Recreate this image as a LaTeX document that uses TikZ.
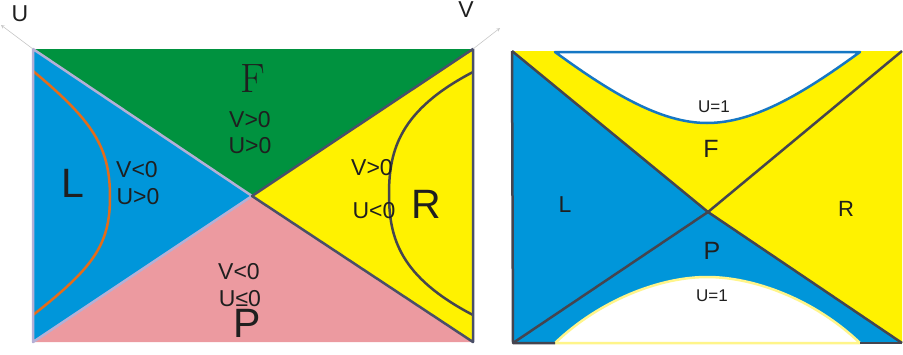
\documentclass[tikz,border=0pt]{standalone}
\usepackage{fontspec}
\setsansfont{Liberation Sans}
\definecolor{fgreen}{HTML}{00923F}
\definecolor{lblue}{HTML}{0096DA}
\definecolor{ppink}{HTML}{EC9AA0}
\definecolor{ryellow}{HTML}{FFF200}
\definecolor{lav}{HTML}{B4B0D6}
\definecolor{dkline}{HTML}{4A4F68}
\definecolor{dkgray}{HTML}{45454F}
\definecolor{horange}{HTML}{E46C1A}
\definecolor{hblue}{HTML}{1577C4}
\definecolor{hyellow}{HTML}{FFF58A}
\begin{document}
\begin{tikzpicture}[x=1pt,y=-1pt,>=stealth,
  every node/.style={inner sep=0pt,text=black!88},
  lbl/.style={font=\sffamily\fontsize{23}{23}\selectfont},
  big/.style={font=\sffamily\fontsize{41}{41}\selectfont},
  mid/.style={font=\sffamily\fontsize{25}{25}\selectfont},
  small/.style={font=\sffamily\fontsize{17}{17}\selectfont},
  edge/.style={line width=2.5pt,line join=round},
  axis/.style={draw=black!22,line width=0.6pt}]
\useasboundingbox (0,0) rectangle (903,354);
\coordinate (a) at (33,49);
\coordinate (b) at (473,49);
\coordinate (c) at (473,342);
\coordinate (d) at (33,342);
\coordinate (o) at (252,196);
\coordinate (ut) at (1,25);
\coordinate (vt) at (500,28);
\fill[fgreen] (a)--(b)--(o)--cycle;
\fill[lblue] (a)--(o)--(d)--cycle;
\fill[ppink] (d)--(o)--(c)--cycle;
\fill[ryellow] (b)--(c)--(o)--cycle;
\draw[horange,line width=2.5pt] (33,71) .. controls (93,121) and (110,147) .. (110,197) .. controls (110,245) and (93,268) .. (33,315);
\draw[dkgray,line width=2.5pt] (473,72) .. controls (400,110) and (389,150) .. (389,194) .. controls (389,238) and (400,277) .. (473,315);
\draw[edge,lav] (d)--(a)--(o)--cycle;
\draw[edge,dkline] (b)--(o)--(c)--cycle;
\draw[->,axis] (a)--(ut);
\draw[->,axis] (b)--(vt);
\node[lbl] (ulab) at (20,14) {U};
\node[lbl] (vlab) at (466,10) {V};
\node[font=\rmfamily\fontsize{41}{41}\selectfont] (fF) at (253,79) {F};
\node[lbl] (fv) at (250,120) {V>0};
\node[lbl] (fu) at (250,146) {U>0};
\node[big] (lL) at (73,183) {L};
\node[lbl] (lv) at (137,170) {V<0};
\node[lbl] (lu) at (138,197) {U>0};
\node[lbl] (rv) at (372,168) {V>0};
\node[lbl] (ru) at (374,211) {U<0};
\node[big] (rR) at (426,204) {R};
\node[lbl] (pv) at (239,272) {V<0};
\node[lbl] (pu) at (240,299) {U≤0};
\node[big] (pP) at (247,323) {P};
\coordinate (a2) at (512,51);
\coordinate (b2) at (902,51);
\coordinate (c2) at (902,343);
\coordinate (d2) at (513,343);
\coordinate (o2) at (708,212);
\coordinate (t1) at (555,52);
\coordinate (t2) at (860,52);
\coordinate (s1) at (555,343);
\coordinate (s2) at (860,343);
\fill[ryellow] (a2)--(b2)--(c2)--(o2)--cycle;
\fill[lblue] (a2)--(o2)--(c2)--(d2)--cycle;
\filldraw[fill=white,draw=hblue,line width=2.5pt,line join=round] (t1)--(t2) .. controls (805,92) and (755,123) .. (707,123) .. controls (660,123) and (610,92) .. cycle;
\filldraw[fill=white,draw=hyellow,line width=2.5pt,line join=round] (s1)--(s2) .. controls (815,300) and (755,277) .. (707,277) .. controls (660,277) and (600,300) .. cycle;
\draw[edge,dkgray] (a2)--(o2)--(c2);
\draw[edge,dkgray] (d2)--(o2)--(b2);
\draw[edge,dkgray] (a2)--(d2)--(s1);
\draw[edge,dkgray] (s2)--(c2);
\node[small] (tu) at (714,107) {U=1};
\node[mid] (fF2) at (711,149) {F};
\node[font=\sffamily\fontsize{23}{23}\selectfont] (lL2) at (565,205) {L};
\node[font=\sffamily\fontsize{22}{22}\selectfont] (rR2) at (846,209) {R};
\node[mid] (pP2) at (712,251) {P};
\node[small] (bu) at (712,296) {U=1};
\end{tikzpicture}
\end{document}
